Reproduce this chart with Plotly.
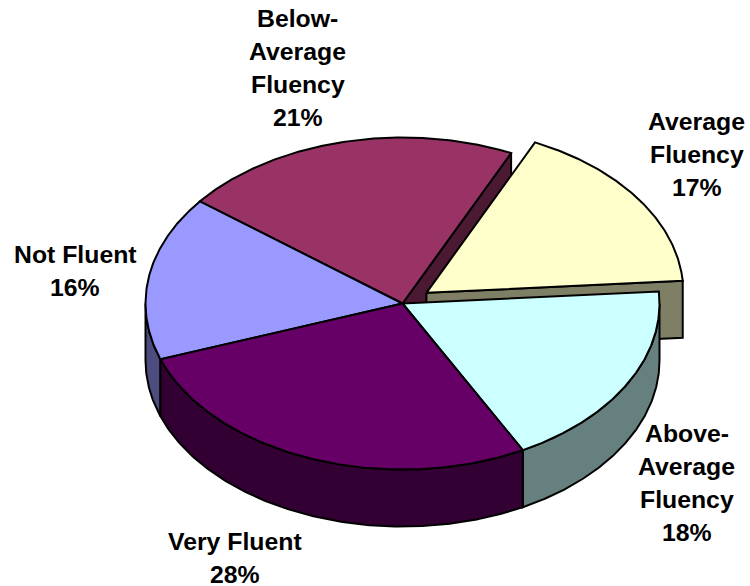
import numpy as np
import plotly.graph_objects as go

# Data, clockwise from the start angle
categories = ["Average Fluency", "Above-Average Fluency", "Very Fluent", "Not Fluent", "Below-Average Fluency"]
values = [16.9, 18.4, 27.3, 16.0, 21.4]
label_lines = [["Average", "Fluency", "17%"],
               ["Above-", "Average", "Fluency", "18%"],
               ["Very Fluent", "28%"],
               ["Not Fluent", "16%"],
               ["Below-", "Average", "Fluency", "21%"]]
top_colors = ["#FFFFCC", "#CCFFFF", "#660066", "#9999FF", "#993366"]
side_colors = ["#7F7F66", "#667F7F", "#330033", "#4C4C7F", "#4C1933"]

# Pie geometry (pixels of the 750x586 canvas)
CX, CY, RX, RY, DEPTH = 402.5, 303.5, 257, 166, 57
START = 25.0
EXPLODE = {0: 0.113}
FONT = dict(family="Liberation Sans, Arial, sans-serif", size=24.8, color="black")
LINE_H = 33
label_xy = [(696.5, 121), (686.5, 433), (235, 541), (75, 254), (297.5, 18)]

shares = np.array(values) / sum(values) * 360
a0 = START + np.concatenate([[0], np.cumsum(shares)[:-1]])
a1 = a0 + shares


def rim(a, cx, cy):
    t = np.radians(a)
    return cx + RX * np.sin(t), cy - RY * np.cos(t)


def centre(i):
    e = EXPLODE.get(i, 0)
    mid = np.radians((a0[i] + a1[i]) / 2)
    return CX + e * RX * np.sin(mid), CY - e * RY * np.cos(mid)


def poly(fig, x, y, color):
    fig.add_trace(go.Scatter(x=list(x), y=list(y), mode="lines", fill="toself",
                             fillcolor=color, line=dict(color="black", width=2),
                             hoverinfo="skip", showlegend=False))


def top(fig, i):
    cx, cy = centre(i)
    x, y = rim(np.linspace(a0[i], a1[i], 160), cx, cy)
    poly(fig, np.r_[cx, x, cx], np.r_[cy, y, cy], top_colors[i])


def outer_wall(fig, i):
    cx, cy = centre(i)
    lo, hi = max(a0[i], 90), min(a1[i], 270)
    if hi <= lo:
        return
    x, y = rim(np.linspace(lo, hi, 160), cx, cy)
    poly(fig, np.r_[x, x[::-1], x[0]], np.r_[y, y[::-1] + DEPTH, y[0]], side_colors[i])


def cut_wall(fig, i, a):
    cx, cy = centre(i)
    x, y = rim(a, cx, cy)
    poly(fig, [cx, x, x, cx, cx], [cy, y, y + DEPTH, cy + DEPTH, cy], side_colors[i])


fig = go.Figure()
# Back to front
cut_wall(fig, 4, a1[4] % 360)
top(fig, 4)
outer_wall(fig, 3)
top(fig, 3)
cut_wall(fig, 0, a1[0])
top(fig, 0)
outer_wall(fig, 1)
top(fig, 1)
outer_wall(fig, 2)
top(fig, 2)

for lines, (lx, ly) in zip(label_lines, label_xy):
    for k, line in enumerate(lines):
        fig.add_annotation(x=lx, y=ly + k * LINE_H, text=f"<b>{line}</b>", showarrow=False,
                           xanchor="center", yanchor="middle", font=FONT)

fig.update_layout(width=750, height=586, margin=dict(l=0, r=0, t=0, b=0),
                  paper_bgcolor="white", plot_bgcolor="white", showlegend=False,
                  xaxis=dict(range=[0, 750], visible=False, fixedrange=True),
                  yaxis=dict(range=[586, 0], visible=False, fixedrange=True))
fig.write_html("out.html", config={"displayModeBar": False},
               post_script="document.body.style.margin='0';document.body.style.overflow='hidden';")
